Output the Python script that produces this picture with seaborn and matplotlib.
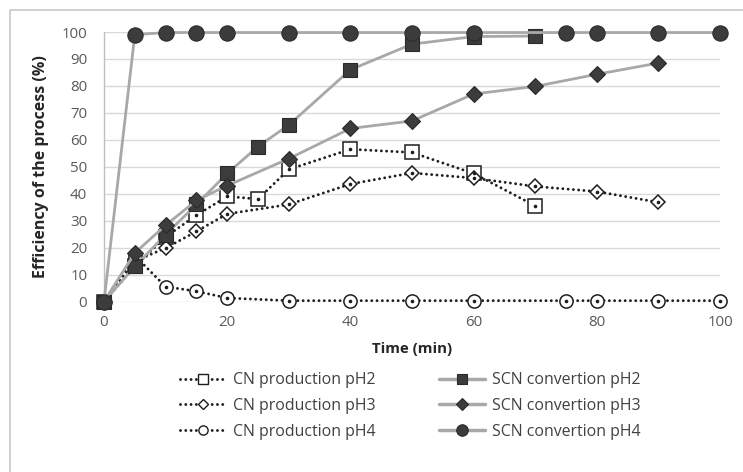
import matplotlib
matplotlib.use("Agg")
import matplotlib.pyplot as plt
import seaborn as sns
from matplotlib.lines import Line2D
from matplotlib.patches import Rectangle

# values
t_cn2 = [0, 5, 10, 15, 20, 25, 30, 40, 50, 60, 70]
cn_ph2 = [0, 13, 24, 32, 39, 38, 49, 56.5, 55.3, 47.5, 35.5]

t_cn3 = [0, 5, 10, 15, 20, 30, 40, 50, 60, 70, 80, 90]
cn_ph3 = [0, 15, 19.8, 26, 32.5, 36, 43.6, 47.7, 45.8, 42.7, 40.8, 36.8]

t_cn4 = [0, 5, 10, 15, 20, 30, 40, 50, 60, 75, 80, 90, 100]
cn_ph4 = [0, 17, 5.5, 3.8, 1.3, 0.3, 0.3, 0.3, 0.3, 0.3, 0.3, 0.3, 0.3]

t_scn2 = [0, 5, 10, 15, 20, 25, 30, 40, 50, 60, 70]
scn_ph2 = [0, 13, 24.8, 36, 47.5, 57.5, 65.5, 86, 95.5, 98.3, 98.5]

t_scn3 = [0, 5, 10, 15, 20, 30, 40, 50, 60, 70, 80, 90]
scn_ph3 = [0, 18, 28.3, 37.5, 43, 53, 64.2, 67, 77, 79.8, 84.3, 88.5]

t_scn4 = [0, 5, 10, 15, 20, 30, 40, 50, 60, 75, 80, 90, 100]
scn_ph4 = [0, 99, 99.8, 99.8, 99.8, 99.8, 99.8, 99.8, 99.8, 99.8, 99.8, 99.8, 99.8]

sns.set_style("white")
plt.rcParams["font.family"] = ["Open Sans", "DejaVu Sans"]

DARK = "#3c3c3c"
DOT = "#1e1e1e"
GREY = "#a8a8a8"
dotted = (0, (0.01, 1.8))

fig = plt.figure(figsize=(7.43, 4.72), dpi=100)
ax = fig.add_axes([104 / 743, 1 - 301.5 / 472, (720 - 104) / 743, (301.5 - 32) / 472])

cn_series = [
    (t_cn2, cn_ph2, "s", 9.5, "CN production pH2"),
    (t_cn3, cn_ph3, "D", 7.5, "CN production pH3"),
    (t_cn4, cn_ph4, "o", 9.5, "CN production pH4"),
]
scn_series = [
    (t_scn2, scn_ph2, "s", 10.5, "SCN convertion pH2"),
    (t_scn3, scn_ph3, "D", 8.5, "SCN convertion pH3"),
    (t_scn4, scn_ph4, "o", 11, "SCN convertion pH4"),
]

for x, y, m, ms, lab in cn_series:
    sns.lineplot(x=x, y=y, ax=ax, color=DOT, linestyle=dotted, linewidth=2.1,
                 marker=m, markersize=ms,
                 markerfacecolor="white", markeredgecolor=DOT, markeredgewidth=1.1,
                 clip_on=False, zorder=3, sort=False)
    ax.lines[-1].set_dash_capstyle("round")
    ax.plot(x, y, ls="none", marker="o", ms=1.6, color=DOT, clip_on=False, zorder=3.1)

for x, y, m, ms, lab in scn_series:
    sns.lineplot(x=x, y=y, ax=ax, color=GREY, linewidth=2.0, marker=m, markersize=ms,
                 markerfacecolor=DARK, markeredgecolor="#2a2a2a", markeredgewidth=0.8,
                 clip_on=False, zorder=4, sort=False)

ax.set_xlim(0, 100)
ax.set_ylim(0, 100)
ax.set_xticks(range(0, 101, 20))
ax.set_yticks(range(0, 101, 10))
ax.yaxis.grid(True, color="#d9d9d9", linewidth=1.0)
ax.xaxis.grid(False)
for s in ["top", "right", "bottom"]:
    ax.spines[s].set_visible(False)
ax.spines["left"].set_color("#bfbfbf")
ax.spines["left"].set_linewidth(1.0)
ax.tick_params(axis="y", length=4, width=1, color="#bfbfbf", pad=8,
               labelsize=10.8, labelcolor="#595959")
ax.tick_params(axis="x", length=0, pad=10, labelsize=10.8, labelcolor="#595959")
ax.set_xlabel("Time (min)", fontsize=10.8, fontweight="bold", color="#262626", labelpad=8)
ax.set_ylabel("Efficiency of the process (%)", fontsize=11.5, fontweight="bold",
              color="#262626", labelpad=9)
ax.set_facecolor("white")

handles = []
labels = []
for x, y, m, ms, lab in cn_series:
    h = Line2D([], [], color=DOT, linestyle=dotted, linewidth=2.1,
               marker=m, markersize=ms * 0.7,
               markerfacecolor="white", markeredgecolor=DOT, markeredgewidth=1.0)
    h.set_dash_capstyle("round")
    handles.append(h)
    labels.append(lab)
for x, y, m, ms, lab in scn_series:
    handles.append(Line2D([], [], color=GREY, linewidth=2.5, marker=m,
                          markersize=ms * 0.75, markerfacecolor=DARK,
                          markeredgecolor="#2a2a2a", markeredgewidth=0.8))
    labels.append(lab)

leg = fig.legend(handles, labels, ncol=2, loc="center", bbox_to_anchor=(410 / 743, 1 - 406 / 472),
                 frameon=False, fontsize=11.4, handlelength=2.9, handletextpad=0.45,
                 columnspacing=4.0, labelspacing=0.62)
for t in leg.get_texts():
    t.set_color("#404040")

fig.patches.append(Rectangle((10 / 743, -0.1), 1.2, 1 - 10 / 472 + 0.1,
                             transform=fig.transFigure, fill=False,
                             edgecolor="#c8c8c8", linewidth=1.2, zorder=0))

fig.savefig("out.png", dpi=100)
